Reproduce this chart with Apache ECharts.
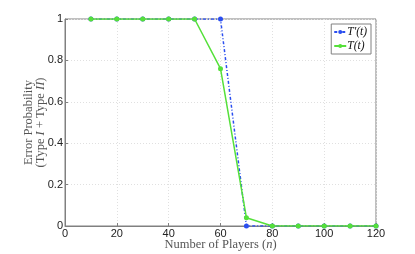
<!DOCTYPE html>
<html><head><meta charset="utf-8">
<script src="https://cdn.jsdelivr.net/npm/echarts@6/dist/echarts.min.js"></script>
<style>html,body{margin:0;padding:0;background:#fff}#c{width:415px;height:254px}</style>
</head><body><div id="c"></div>
<script>
var players = [10, 20, 30, 40, 50, 60, 70, 80, 90, 100, 110, 120];
var tPrime = [1, 1, 1, 1, 1, 1, 0, 0, 0, 0, 0, 0];
var tPlain = [1, 1, 1, 1, 1, 0.76, 0.04, 0, 0, 0, 0, 0];
var xTicks = [0, 20, 40, 60, 80, 100, 120];
var yTicks = [0, 0.2, 0.4, 0.6, 0.8, 1];

function pairs(xs, ys){ return xs.map(function(x,i){return [x, ys[i]];}); }

var chart = echarts.init(document.getElementById('c'));
var serif = '"Liberation Serif","DejaVu Serif",serif';
var sans = '"Liberation Sans","DejaVu Sans",sans-serif';
chart.setOption({
  animation: false,
  grid: {left: 65, right: 39, top: 19, bottom: 28, show: true, borderColor: '#808080', borderWidth: 1,
         containLabel: false, outerBoundsMode: 'none'},
  legend: {
    right: 44, top: 24, orient: 'vertical', itemGap: 2, itemWidth: 12, itemHeight: 5,
    padding: [2, 4, 2, 2], borderColor: '#808080', borderWidth: 1, backgroundColor: '#fff',
    textStyle: {fontFamily: serif, fontStyle: 'italic', fontSize: 11.5, color: '#111', padding: [0,0,0,-4]},
    data: ["T\u2032(t)", 'T(t)']
  },
  xAxis: {
    type: 'value', min: 0, max: 120, interval: 20,
    name: '{a|Number of Players (}{i|n}{a|)}', nameLocation: 'middle', nameGap: 12, nameMoveOverlap: false,
    nameTextStyle: {rich: {
      a: {fontFamily: serif, fontSize: 12.5, color: '#555'},
      i: {fontFamily: serif, fontSize: 12.5, fontStyle: 'italic', color: '#555'}
    }},
    axisLine: {lineStyle: {color: '#808080'}},
    axisTick: {inside: true, length: 3, lineStyle: {color: '#808080'}},
    axisLabel: {fontFamily: sans, fontSize: 11, color: '#222', margin: 2},
    splitLine: {show: true, lineStyle: {color: '#e0e0e0', type: [1, 2]}}
  },
  yAxis: {
    type: 'value', min: 0, max: 1, interval: 0.2,
    name: '{a|Error Probability}\n{a|(Type }{i|I}{a| + Type }{i|II}{a|)}',
    nameLocation: 'middle', nameGap: 18, nameRotate: 90, nameMoveOverlap: false,
    nameTextStyle: {lineHeight: 12, rich: {
      a: {fontFamily: serif, fontSize: 12.5, color: '#555', lineHeight: 12},
      i: {fontFamily: serif, fontSize: 12.5, fontStyle: 'italic', color: '#555', lineHeight: 12}
    }},
    axisLine: {show: true, lineStyle: {color: '#808080'}},
    axisTick: {show: true, inside: true, length: 3, lineStyle: {color: '#808080'}},
    axisLabel: {fontFamily: sans, fontSize: 11, color: '#222', margin: 2,
      formatter: function(v){ return String(Math.round(v*10)/10); }},
    splitLine: {show: true, lineStyle: {color: '#e0e0e0', type: [1, 2]}}
  },
  series: [
    {name: "T\u2032(t)", type: 'line', data: pairs(players, tPrime), symbol: 'circle', symbolSize: 5,
     itemStyle: {color: '#2a4ef0'}, lineStyle: {color: '#2a4ef0', width: 1.5, type: [3, 2, 1, 2]}, z: 2},
    {name: 'T(t)', type: 'line', data: pairs(players, tPlain), symbol: 'circle', symbolSize: 5,
     itemStyle: {color: '#55e03a'}, lineStyle: {color: '#55e03a', width: 1.5}, z: 3}
  ]
});
</script></body></html>
